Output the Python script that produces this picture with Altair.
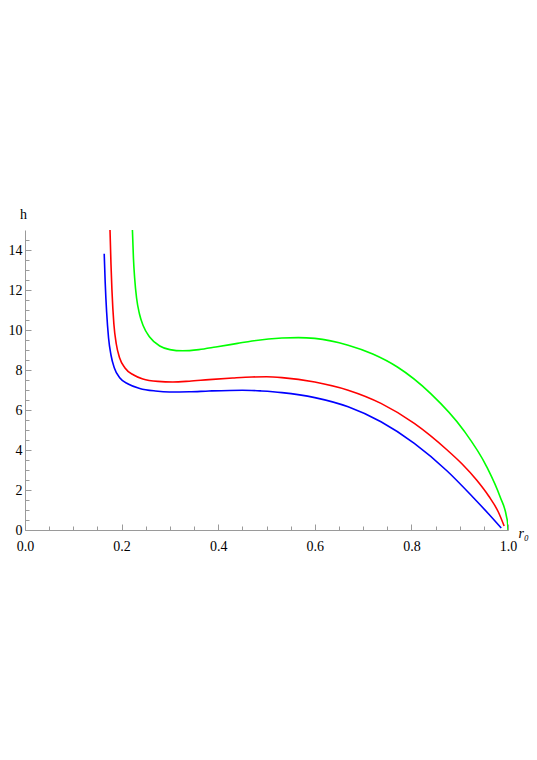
import altair as alt
import pandas as pd

# ---- data ----
blue_r = [0.164, 0.166, 0.169, 0.173, 0.178, 0.185, 0.1965, 0.2136, 0.2376, 0.27, 0.299, 0.34,
          0.381, 0.45, 0.49, 0.532, 0.600, 0.669, 0.737, 0.806, 0.874, 0.929, 0.960, 0.986]
blue_h = [13.81, 12.4, 10.9, 9.6, 8.75, 8.1, 7.6, 7.3, 7.08, 6.95, 6.90, 6.91,
          6.95, 6.99, 6.95, 6.87, 6.62, 6.16, 5.41, 4.33, 2.95, 1.60, 0.80, 0.10]

red_r = [0.176, 0.178, 0.180, 0.184, 0.189, 0.196, 0.207, 0.225, 0.244, 0.275, 0.306, 0.34,
         0.381, 0.43, 0.47, 0.50, 0.532, 0.600, 0.669, 0.737, 0.806, 0.874, 0.905, 0.935,
         0.960, 0.980, 0.992]
red_h = [15.0, 13.3, 12.0, 10.3, 9.3, 8.6, 8.1, 7.75, 7.55, 7.43, 7.40, 7.44,
         7.52, 7.60, 7.65, 7.66, 7.62, 7.40, 6.99, 6.33, 5.33, 4.0, 3.3, 2.5,
         1.7, 0.9, 0.2]

green_r = [0.2224, 0.2245, 0.227, 0.231, 0.237, 0.245, 0.258, 0.279, 0.30, 0.3265, 0.36, 0.395,
           0.44, 0.47, 0.532, 0.566, 0.60, 0.669, 0.72, 0.771, 0.84, 0.908, 0.956, 0.9836,
           0.997, 0.9993, 1.0]
green_h = [15.0, 13.6, 12.6, 11.6, 10.8, 10.2, 9.65, 9.2, 9.02, 8.96, 9.02, 9.15,
           9.33, 9.45, 9.60, 9.62, 9.58, 9.24, 8.8, 8.15, 6.82, 4.99, 3.16, 1.66,
           0.66, 0.32, 0.0]

series_names = ["blue", "red", "green"]
series_colors = ["#0000ff", "#ff0000", "#00ff00"]

x_major = [0.0, 0.2, 0.4, 0.6, 0.8, 1.0]
x_minor = [0.05, 0.1, 0.15, 0.25, 0.3, 0.35, 0.45, 0.5, 0.55, 0.65, 0.7, 0.75, 0.85, 0.9, 0.95]
y_major = [0, 2, 4, 6, 8, 10, 12, 14]
y_minor = [0.5, 1, 1.5, 2.5, 3, 3.5, 4.5, 5, 5.5, 6.5, 7, 7.5, 8.5, 9, 9.5, 10.5, 11, 11.5,
           12.5, 13, 13.5, 14.5]

rows = []
for name, rs, hs in [("blue", blue_r, blue_h), ("red", red_r, red_h), ("green", green_r, green_h)]:
    for i, (r, h) in enumerate(zip(rs, hs)):
        rows.append({"series": name, "r": r, "h": h, "i": i})
df = pd.DataFrame(rows)

W, H = 483, 300
FONT = "Liberation Serif"
GRAY = "#9a9a9a"

xs = alt.Scale(domain=[0, 1], nice=False, zero=False)
ys = alt.Scale(domain=[0, 15], nice=False, zero=False)
cs = alt.Scale(domain=series_names, range=series_colors)

base = alt.Chart(df)

lines = base.mark_line(strokeWidth=1.6, interpolate="monotone", clip=True).encode(
    x=alt.X("r:Q", scale=xs, axis=alt.Axis(
        orient="bottom", values=x_major, format=".1f", ticks=False, grid=False,
        domainColor=GRAY, domainWidth=1, labelFont=FONT, labelFontSize=14, labelColor="black",
        labelPadding=9, labelFlush=False,
        title="r₀", titleFont=FONT, titleFontSize=14, titleFontWeight="normal",
        titleFontStyle="italic", titleColor="black",
        titleX=W + 10, titleY=3, titleAlign="left", titleBaseline="middle")),
    y=alt.Y("h:Q", scale=ys, axis=alt.Axis(
        orient="left", values=y_major, format="d", ticks=False, grid=False,
        domainColor=GRAY, domainWidth=1, labelFont=FONT, labelFontSize=14, labelColor="black",
        labelPadding=3, labelFlush=False,
        title="h", titleFont=FONT, titleFontSize=14, titleFontWeight="normal",
        titleColor="black", titleAngle=0, titleX=-2, titleY=-12,
        titleAlign="center", titleBaseline="alphabetic")),
    color=alt.Color("series:N", scale=cs, legend=None),
    order="i:Q",
)

major_ticks = base.mark_line(opacity=0).encode(
    x=alt.X("r:Q", scale=xs, axis=alt.Axis(
        orient="top", offset=-H, values=x_major, labels=False, domain=False, grid=False,
        tickSize=6, tickColor=GRAY, title=None)),
    y=alt.Y("h:Q", scale=ys, axis=alt.Axis(
        orient="right", offset=-W, values=y_major, labels=False, domain=False, grid=False,
        tickSize=6, tickColor=GRAY, title=None)),
    detail="series:N",
)

minor_ticks = base.mark_line(opacity=0).encode(
    x=alt.X("r:Q", scale=xs, axis=alt.Axis(
        orient="top", offset=-H, values=x_minor, labels=False, domain=False, grid=False,
        tickSize=4, tickColor=GRAY, title=None)),
    y=alt.Y("h:Q", scale=ys, axis=alt.Axis(
        orient="right", offset=-W, values=y_minor, labels=False, domain=False, grid=False,
        tickSize=4, tickColor=GRAY, title=None)),
    detail="series:N",
)

chart = alt.layer(lines, major_ticks, minor_ticks).resolve_axis(
    x="independent", y="independent"
).properties(
    width=W, height=H,
    autosize=alt.AutoSizeParams(type="none"),
    padding={"left": 17, "top": 222, "right": 21, "bottom": 60},
).configure_view(stroke=None)

chart.save("out.html", embed_options={"renderer": "svg", "actions": False})
